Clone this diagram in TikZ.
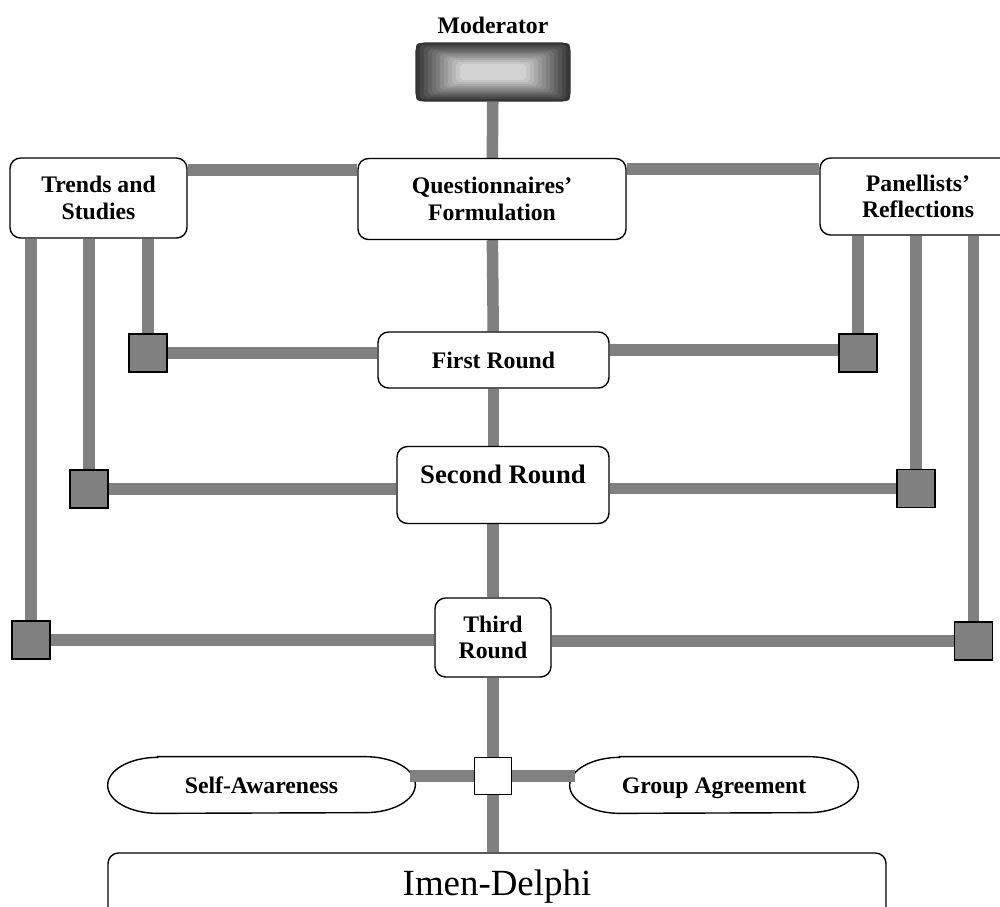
\documentclass[tikz,border=0pt]{standalone}
\usepackage{fontspec}
\setmainfont{Liberation Serif}
\usepackage{tikz}
\usetikzlibrary{backgrounds}
\tikzset{
  box/.style={draw,thick,fill=white,rounded corners=6pt,align=center,
    font=\fontsize{13.5}{15}\selectfont\bfseries},
  pill/.style={minimum height=1.12cm,text height=1.2em,text depth=0.22em,
    font=\fontsize{13.5}{15}\selectfont\bfseries},
  sq/.style={draw,thick,fill=gray,minimum size=0.76cm,inner sep=0pt},
  bar/.style={line width=0.23cm,draw=gray}
}

\begin{document}
\begin{tikzpicture}
    \clip (0,0) rectangle (20,-18.12);
    \node (modlabel) at (9.86,-0.5) {\fontsize{13.5}{15}\selectfont\bfseries Moderator};
    % shaded moderator box
    \foreach \i in {0,...,11} {
      \pgfmathsetmacro\hw{1.54-0.08*\i}
      \pgfmathsetmacro\hh{0.58-0.038*\i}
      \pgfmathsetmacro\lv{78-5.5*\i}
      \fill[black!\lv,rounded corners=2pt] ([shift={(-\hw,-\hh)}]9.86,-1.44) rectangle ([shift={(\hw,\hh)}]9.86,-1.44);
    }
    \node[draw=black!80,thick,rounded corners=5pt,minimum width=3.08cm,minimum height=1.16cm] (mod) at (9.86,-1.44) {};

    \node[box,minimum width=3.54cm,minimum height=1.6cm] (trends) at (1.97,-3.96) {Trends and\\Studies};
    \node[box,minimum width=5.36cm,minimum height=1.62cm] (quest) at (9.84,-3.98) {Questionnaires'\\Formulation};
    \node[box,minimum width=3.92cm,minimum height=1.54cm] (panel) at (18.36,-3.93) {Panellists'\\Reflections};

    \node[box,minimum width=4.62cm,minimum height=1.12cm] (first) at (9.87,-7.2) {First Round};
    \node[box,minimum width=4.24cm,minimum height=1.54cm,text depth=0.45cm,
      font=\fontsize{15.2}{17}\selectfont\bfseries] (second) at (10.06,-9.7) {Second Round};
    \node[box,minimum width=2.32cm,minimum height=1.58cm] (third) at (9.86,-12.75) {Third\\Round};

    \node[sq] (sqL1) at (2.96,-7.06) {};
    \node[sq] (sqR1) at (17.16,-7.06) {};
    \node[sq] (sqL2) at (1.78,-9.78) {};
    \node[sq] (sqR2) at (18.32,-9.77) {};
    \node[sq] (sqL3) at (0.62,-12.8) {};
    \node[sq] (sqR3) at (19.47,-12.82) {};

    \node[draw,thick,fill=white,minimum size=0.74cm,inner sep=0pt] (hub) at (9.86,-15.52) {};
    \node[pill,minimum width=6.14cm] (self) at (5.23,-15.7) {Self-Awareness};
    \node[pill,minimum width=5.76cm] (group) at (14.28,-15.7) {Group Agreement};
    \node[draw,thick,rounded corners=6pt,minimum width=15.56cm,minimum height=1.34cm,
      font=\fontsize{21}{24}\selectfont] (imen) at (9.94,-17.73) {Imen-Delphi};

    \begin{scope}[on background layer]
    % pill outlines with elliptic ends
    \foreach \p in {self,group}
      \draw[thick,fill=white] ([xshift=1cm]\p.north west) -- ([xshift=-1cm]\p.north east)
        arc[start angle=90,end angle=-90,x radius=1cm,y radius=0.56cm]
        -- ([xshift=1cm]\p.south west)
        arc[start angle=270,end angle=90,x radius=1cm,y radius=0.56cm] -- cycle;
    \draw[bar] (mod) -- (quest);
    \draw[bar] ([yshift=0.56cm]trends.east) -- ([yshift=0.56cm]trends.east -| quest.west);
    \draw[bar] ([yshift=0.6cm]quest.east) -- ([yshift=0.6cm]quest.east -| panel.west);
    \draw[bar] (quest) -- (first);
    \draw[bar] (first) -- (second.north -| first.south);
    \draw[bar] (second.south -| third.north) -- (third);
    \draw[bar] (third) -- (hub);
    \draw[bar] (hub) -- (imen.north -| hub.south);
    \draw[bar] (hub) -- ([xshift=-0.1cm]hub -| self.east);
    \draw[bar] (hub) -- ([xshift=0.1cm]hub -| group.west);
    % left feedback lines
    \draw[bar] (sqL1) -- (sqL1 |- trends.south);
    \draw[bar] (sqL2) -- (sqL2 |- trends.south);
    \draw[bar] (sqL3) -- (sqL3 |- trends.south);
    \draw[bar] (sqL1) -- (sqL1 -| first.west);
    \draw[bar] (sqL2) -- (sqL2 -| second.west);
    \draw[bar] (sqL3) -- (sqL3 -| third.west);
    % right feedback lines
    \draw[bar] (sqR1) -- (sqR1 |- panel.south);
    \draw[bar] (sqR2) -- (sqR2 |- panel.south);
    \draw[bar] (sqR3) -- (sqR3 |- panel.south);
    \draw[bar] ([yshift=0.06cm]sqR1.center) -- ([yshift=0.06cm]sqR1.center -| first.east);
    \draw[bar] (sqR2) -- (sqR2 -| second.east);
    \draw[bar] (sqR3) -- (sqR3 -| third.east);
    \end{scope}
\end{tikzpicture}
\end{document}
